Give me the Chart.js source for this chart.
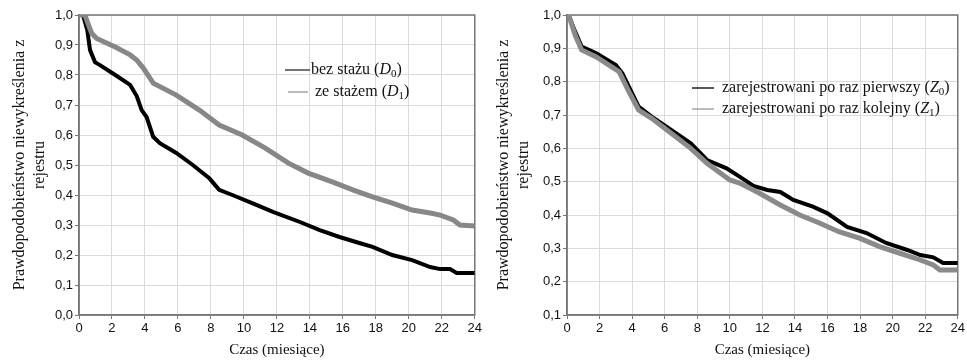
<!DOCTYPE html>
<html>
<head>
<meta charset="utf-8">
<script src="https://cdn.jsdelivr.net/npm/chart.js@4/dist/chart.umd.min.js"></script>
<style>
    html, body { margin: 0; padding: 0; background: #fff; }
    #wrap { display: flex; width: 967px; height: 361px; }
    canvas { display: block; }
</style>
</head>
<body>
<div id="wrap">
    <canvas id="chartD" width="484" height="361"></canvas>
    <canvas id="chartZ" width="483" height="361"></canvas>
</div>
<script>
// x axis ticks (months)
const monthTicks = [0, 2, 4, 6, 8, 10, 12, 14, 16, 18, 20, 22, 24];

// left panel: without / with internship
const d0Months = [0, 0.24, 0.5, 0.67, 0.97, 1.27, 2.2, 3.1, 3.5, 3.8, 4.1, 4.5, 4.9, 5.9, 6.9, 7.9, 8.1, 8.5, 9.3, 10.5, 11.8, 13.4, 14.6, 15.8, 17.0, 17.8, 19.0, 20.2, 21.3, 21.9, 22.5, 22.9, 24];
const d0Values = [1.0, 1.0, 0.95, 0.883, 0.843, 0.833, 0.80, 0.767, 0.73, 0.683, 0.66, 0.594, 0.573, 0.54, 0.50, 0.456, 0.443, 0.417, 0.40, 0.373, 0.343, 0.31, 0.283, 0.26, 0.24, 0.227, 0.20, 0.183, 0.16, 0.153, 0.153, 0.14, 0.14];
const d1Months = [0, 0.36, 0.5, 0.77, 1.07, 2.2, 3.1, 3.5, 3.9, 4.5, 5.9, 7.3, 8.5, 9.9, 11.3, 12.7, 13.9, 15.4, 16.6, 17.8, 19.0, 20.2, 21.3, 21.9, 22.7, 23.1, 24];
const d1Values = [1.0, 1.0, 0.978, 0.939, 0.922, 0.893, 0.867, 0.85, 0.823, 0.773, 0.733, 0.683, 0.633, 0.60, 0.556, 0.506, 0.473, 0.443, 0.417, 0.394, 0.373, 0.35, 0.34, 0.333, 0.317, 0.30, 0.297];

// right panel: first time / repeated registration
const z0Months = [0, 0.1, 0.5, 0.9, 1.8, 3.0, 3.4, 3.8, 4.4, 5.2, 6.4, 7.6, 8.6, 9.8, 10.6, 11.45, 12.3, 13.1, 13.9, 15.1, 16.0, 17.2, 18.4, 19.6, 20.9, 21.7, 22.5, 23.1, 24];
const z0Values = [1.0, 1.0, 0.95, 0.905, 0.885, 0.85, 0.825, 0.785, 0.725, 0.695, 0.655, 0.615, 0.565, 0.54, 0.515, 0.487, 0.475, 0.469, 0.445, 0.425, 0.405, 0.364, 0.346, 0.316, 0.295, 0.28, 0.273, 0.256, 0.256];
const z1Months = [0, 0.1, 0.5, 0.9, 1.8, 3.2, 3.8, 4.4, 5.2, 6.4, 7.6, 8.6, 10.0, 10.6, 11.8, 13.1, 14.3, 15.5, 16.7, 18.0, 19.2, 20.4, 21.7, 22.5, 22.9, 24];
const z1Values = [1.0, 1.0, 0.94, 0.895, 0.874, 0.83, 0.77, 0.715, 0.69, 0.645, 0.60, 0.555, 0.505, 0.496, 0.466, 0.43, 0.40, 0.376, 0.35, 0.33, 0.305, 0.286, 0.265, 0.25, 0.235, 0.235];

// legend texts
const dNames = ["bez stażu", "ze stażem"];
const zNames = ["zarejestrowani po raz pierwszy", "zarejestrowani po raz kolejny"];
const dSymbol = "D";
const zSymbol = "Z";
const groupSubs = ["0", "1"];

const yTitle = ["Prawdopodobieństwo niewykreślenia z", "rejestru"];
const xTitle = "Czas (miesiące)";

const SERIF = '"Liberation Serif", "Times New Roman", serif';
const SANS = '"Liberation Sans", Arial, sans-serif';

function toPoints(months, values) {
    return months.map((m, i) => ({ x: m, y: values[i] }));
}

// frame around the plot area (top and right sides too)
const framePlugin = {
    id: "frame",
    beforeDatasetsDraw(chart) {
        const { ctx, chartArea: a } = chart;
        ctx.save();
        ctx.strokeStyle = "#777";
        ctx.lineWidth = 1.5;
        ctx.strokeRect(a.left, a.top, a.right - a.left, a.bottom - a.top);
        ctx.restore();
    },
};

// legend drawn inside the plot area, with italic symbol and subscript
const innerLegend = {
    id: "innerLegend",
    afterDatasetsDraw(chart, args, opts) {
        const ctx = chart.ctx;
        ctx.save();
        ctx.textBaseline = "middle";
        ctx.textAlign = "left";
        opts.items.forEach((it) => {
            ctx.strokeStyle = it.color;
            ctx.lineWidth = 1.5;
            ctx.beginPath();
            ctx.moveTo(it.x0, it.y);
            ctx.lineTo(it.x1, it.y);
            ctx.stroke();

            ctx.fillStyle = "#111";
            let x = it.tx;
            ctx.font = "16px " + SERIF;
            const head = it.name + " (";
            ctx.fillText(head, x, it.y);
            x += ctx.measureText(head).width;
            ctx.font = "italic 16px " + SERIF;
            ctx.fillText(it.symbol, x, it.y);
            x += ctx.measureText(it.symbol).width;
            ctx.font = "11px " + SERIF;
            ctx.fillText(it.sub, x, it.y + 4);
            x += ctx.measureText(it.sub).width;
            ctx.font = "16px " + SERIF;
            ctx.fillText(")", x, it.y);
        });
        ctx.restore();
    },
};

function makeChart(canvasId, series, yMin, yAxisWidth, rightPad, legendItems) {
    return new Chart(document.getElementById(canvasId).getContext("2d"), {
        type: "line",
        data: {
            datasets: series.map((s) => ({
                label: s.label,
                data: toPoints(s.months, s.values),
                borderColor: s.color,
                borderWidth: s.width,
                pointRadius: 0,
                tension: 0,
                fill: false,
                order: s.order,
            })),
        },
        options: {
            responsive: false,
            animation: false,
            layout: { padding: { top: 15, right: rightPad, left: 0, bottom: 0 } },
            scales: {
                x: {
                    type: "linear",
                    min: 0,
                    max: 24,
                    afterBuildTicks: (scale) => {
                        scale.ticks = monthTicks.map((v) => ({ value: v }));
                    },
                    afterFit: (scale) => {
                        scale.height = 46;
                    },
                    grid: { color: "#dadada", tickColor: "#777", tickLength: 4 },
                    border: { color: "#777", width: 1.5 },
                    ticks: {
                        padding: 2,
                        color: "#111",
                        font: { family: SANS, size: 13 },
                        maxRotation: 0,
                    },
                    title: {
                        display: true,
                        text: xTitle,
                        color: "#111",
                        font: { family: SERIF, size: 15, lineHeight: 1.2 },
                        padding: { top: 0, bottom: 2 },
                    },
                },
                y: {
                    min: yMin,
                    max: 1,
                    afterFit: (scale) => {
                        scale.width = yAxisWidth;
                    },
                    grid: { color: "#dadada", tickColor: "#777", tickLength: 4 },
                    border: { color: "#777", width: 1.5 },
                    ticks: {
                        stepSize: 0.1,
                        padding: 2,
                        color: "#111",
                        font: { family: SANS, size: 13 },
                        callback: (v) => v.toFixed(1).replace(".", ","),
                    },
                    title: {
                        display: true,
                        text: yTitle,
                        color: "#111",
                        font: { family: SERIF, size: 16, lineHeight: 1.25 },
                        padding: { top: 10, bottom: 0 },
                    },
                },
            },
            plugins: {
                legend: { display: false },
                tooltip: { enabled: false },
                innerLegend: { items: legendItems },
            },
        },
        plugins: [framePlugin, innerLegend],
    });
}

const chartD = makeChart(
    "chartD",
    [
        { label: dNames[0], months: d0Months, values: d0Values, color: "#000", width: 4, order: 1 },
        { label: dNames[1], months: d1Months, values: d1Values, color: "#878787", width: 5, order: 0 },
    ],
    0, 79, 9,
    [
        { name: dNames[0], symbol: dSymbol, sub: groupSubs[0], color: "#444", x0: 285, x1: 310, tx: 311, y: 70 },
        { name: dNames[1], symbol: dSymbol, sub: groupSubs[1], color: "#a5a5a5", x0: 288, x1: 308, tx: 315, y: 92 },
    ]
);

const chartZ = makeChart(
    "chartZ",
    [
        { label: zNames[0], months: z0Months, values: z0Values, color: "#000", width: 4, order: 1 },
        { label: zNames[1], months: z1Months, values: z1Values, color: "#8a8a8a", width: 5, order: 0 },
    ],
    0.1, 83, 9,
    [
        { name: zNames[0], symbol: zSymbol, sub: groupSubs[0], color: "#222", x0: 208, x1: 230, tx: 238, y: 88 },
        { name: zNames[1], symbol: zSymbol, sub: groupSubs[1], color: "#a5a5a5", x0: 208, x1: 230, tx: 238, y: 109 },
    ]
);
</script>
</body>
</html>
